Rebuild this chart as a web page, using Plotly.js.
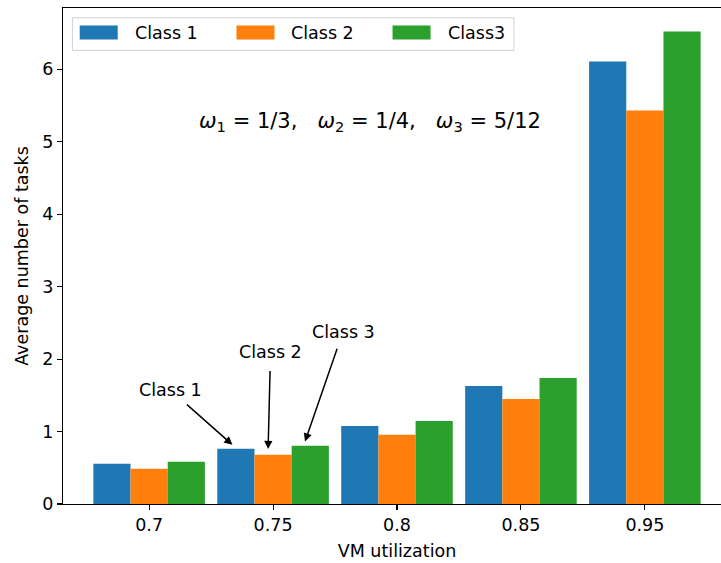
<!DOCTYPE html>
<html>
<head>
<meta charset="utf-8">
<script src="https://cdn.plot.ly/plotly-3.0.1.min.js"></script>
<style>
html,body{margin:0;padding:0;overflow:hidden;background:#fff;}
#chart{width:731px;height:563px;}
</style>
</head>
<body>
<div id="chart"></div>
<script>
// ---- data ----
const categories = ['0.7', '0.75', '0.8', '0.85', '0.95'];
const seriesNames = ['Class 1', 'Class 2', 'Class3'];
const class1 = [0.555, 0.762, 1.078, 1.629, 6.106];
const class2 = [0.486, 0.679, 0.955, 1.450, 5.431];
const class3 = [0.583, 0.803, 1.147, 1.740, 6.520];
const yTicks = [0, 1, 2, 3, 4, 5, 6];
const colors = ['#1f77b4', '#ff7f0e', '#2ca02c'];

// ---- layout geometry (pixels) ----
const W = 731, H = 563;
const L = 63.3, T = 7.5, B = 563 - 504.3;
const plotW = W - L, plotH = H - T - B;
const px2paperX = p => (p - L) / plotW;
const px2paperY = p => (H - B - p) / plotH;

const xIdx = categories.map((c, i) => i);
const values = [class1, class2, class3];
const barW = 0.3;

const traces = values.map((v, k) => ({
  type: 'bar',
  x: xIdx,
  y: v,
  width: barW,
  offset: -0.45 + k * barW,
  name: seriesNames[k],
  marker: {color: colors[k], line: {width: 0}},
  showlegend: false,
  hoverinfo: 'skip'
}));

const FS = 17.5;
const font = {family: 'DejaVu Sans, sans-serif', size: FS, color: '#000'};

// custom legend (matplotlib-like)
const shapes = [];
const annotations = [];
const lx0 = 72.7, lx1 = 514, ly0 = 17.3, ly1 = 50;
shapes.push({
  type: 'rect', xref: 'paper', yref: 'paper',
  x0: px2paperX(lx0), x1: px2paperX(lx1), y0: px2paperY(ly1), y1: px2paperY(ly0),
  line: {color: '#d0d0d0', width: 1}, fillcolor: 'rgba(255,255,255,0.8)', layer: 'above'
});
const swX = [80, 236.7, 392.7];
const txX = [133.3, 289.3, 446];
seriesNames.forEach((n, k) => {
  shapes.push({
    type: 'rect', xref: 'paper', yref: 'paper',
    x0: px2paperX(swX[k]), x1: px2paperX(swX[k] + 38), y0: px2paperY(39), y1: px2paperY(25),
    line: {width: 0}, fillcolor: colors[k], layer: 'above'
  });
  annotations.push({
    xref: 'paper', yref: 'paper', x: px2paperX(txX[k]), y: px2paperY(32.5),
    xanchor: 'left', yanchor: 'middle', text: n, showarrow: false, font: font
  });
});

// formula text
annotations.push({
  xref: 'paper', yref: 'paper', x: px2paperX(370), y: px2paperY(121.5),
  xanchor: 'center', yanchor: 'middle', showarrow: false,
  text: '<i>ω</i><sub>1</sub> = 1/3,\u00a0\u00a0\u00a0<i>ω</i><sub>2</sub> = 1/4,\u00a0\u00a0\u00a0<i>ω</i><sub>3</sub> = 5/12',
  font: {family: 'DejaVu Sans, sans-serif', size: 21, color: '#000'}
});

// arrow annotations (label at the tail, arrow head on the bar)
const arrowLabels = ['Class 1', 'Class 2', 'Class 3'];
const headPos = [[0.672, 0.817], [0.960, 0.758], [1.258, 0.862]];
const tailOff = [[-62.2, -55], [2.4, -96.6], [38, -110]];
const startGap = [5, 7, 6];
arrowLabels.forEach((t, k) => {
  annotations.push({
    x: headPos[k][0], y: headPos[k][1], xref: 'x', yref: 'y',
    text: t, font: font, showarrow: true, ax: tailOff[k][0], ay: tailOff[k][1],
    arrowhead: 2, arrowsize: 1.1, arrowwidth: 1.5, arrowcolor: '#000',
    standoff: 0, startstandoff: startGap[k]
  });
});

const layout = {
  width: W, height: H,
  margin: {l: L, r: 0, t: T, b: B, pad: 0},
  paper_bgcolor: '#fff', plot_bgcolor: '#fff',
  font: font,
  barmode: 'overlay',
  showlegend: false,
  xaxis: {
    range: [-0.695, 4.695],
    tickvals: xIdx, ticktext: categories,
    ticks: 'outside', ticklen: 5, tickwidth: 1.1, tickcolor: '#000',
    showline: true, linecolor: '#000', linewidth: 1.1, mirror: true,
    showgrid: false, zeroline: false,
    tickfont: font,
    title: {text: 'VM utilization', font: font, standoff: 10}
  },
  yaxis: {
    range: [0, 6.846],
    tickvals: yTicks, ticktext: yTicks.map(String),
    ticks: 'outside', ticklen: 5, tickwidth: 1.1, tickcolor: '#000',
    showline: true, linecolor: '#000', linewidth: 1.1,
    showgrid: false, zeroline: false,
    tickfont: font,
    title: {text: 'Average number of tasks', font: font, standoff: 9}
  },
  shapes: shapes,
  annotations: annotations
};

Plotly.newPlot('chart', traces, layout, {staticPlot: true, displayModeBar: false});
</script>
</body>
</html>
